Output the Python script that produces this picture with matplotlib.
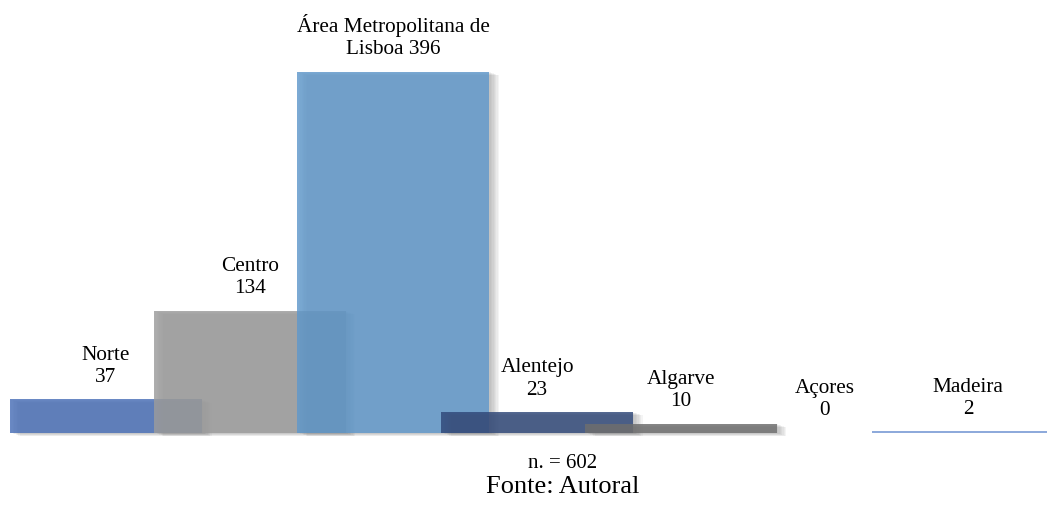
import matplotlib
matplotlib.use("Agg")
import matplotlib.pyplot as plt
import matplotlib.patheffects as pe

regions = ["Norte", "Centro", "Área Metropolitana de\nLisboa", "Alentejo", "Algarve", "Açores", "Madeira"]
counts = [37, 134, 396, 23, 10, 0, 2]
total_label = "n. = 602"
source_label = "Fonte: Autoral"

# base colours, drawn with some transparency so overlapping bars blend
colors = ["#496fb7", "#9c9c9c", "#5f98cb", "#304879", "#6e6e6e", "#5a93c6", "#7597d3"]

plt.rcParams["font.family"] = ["Liberation Serif", "DejaVu Serif"]

fig = plt.figure(figsize=(10.47, 5.24), dpi=100)
ax = fig.add_axes([0, 0, 1, 1])
ax.set_xlim(-0.738, 6.549)
ax.set_ylim(-99.8, 474.8)
ax.axis("off")

# soft drop shadow, built from several faint offset copies
shadow = [pe.SimplePatchShadow(offset=(k * 1.0, -k * 0.35), shadow_rgbFace="#6f6f6f", alpha=0.07)
          for k in range(1, 8)]

for i, (name, val, col) in enumerate(zip(regions, counts, colors)):
    if val > 0:
        bar = ax.bar(i, val, width=1.336, color=col, alpha=0.82, linewidth=0, zorder=2 + i)[0]
        if val > 2:
            bar.set_path_effects(shadow + [pe.Normal()])
    sep = " " if "\n" in name else "\n"
    ax.annotate(f"{name}{sep}{val}", xy=(i, val), xytext=(0, 9), textcoords="offset points",
                ha="center", va="bottom", fontsize=15.3, linespacing=1.22,
                color="black", zorder=20)

fig.text(0.537, 0.116, total_label, ha="center", va="center", fontsize=15)
fig.text(0.537, 0.070, source_label, ha="center", va="center", fontsize=19)

fig.savefig("out.png", dpi=100)
